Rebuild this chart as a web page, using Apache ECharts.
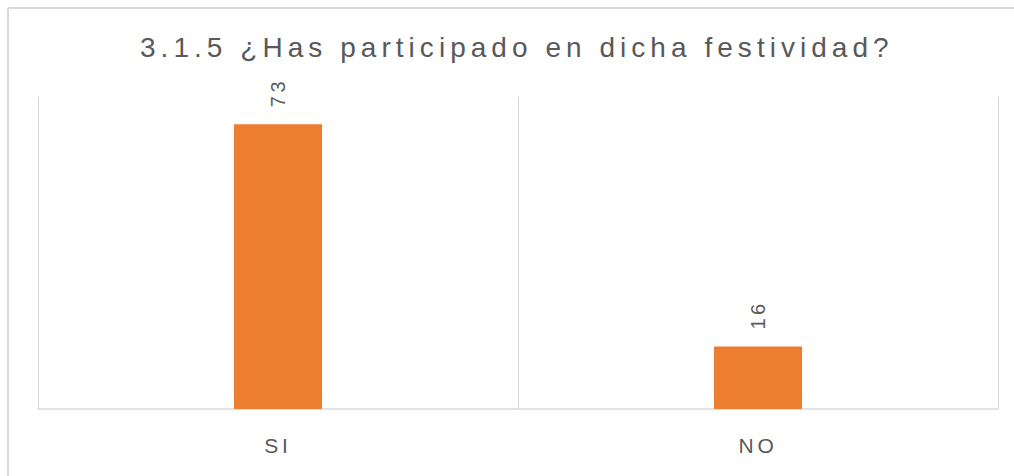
<!DOCTYPE html>
<html>
<head>
<meta charset="utf-8">
<script src="https://cdn.jsdelivr.net/npm/echarts@6/dist/echarts.min.js"></script>
<style>
  html, body { margin: 0; padding: 0; background: #fff; }
  #main { width: 1014px; height: 476px; }
  /* Excel-style expanded character spacing */
  #main svg text { letter-spacing: 0.18em; }
</style>
</head>
<body>
<div id="main"></div>
<script>
let titleText = '3.1.5 ¿Has participado en dicha festividad?';
let categories = ['SI', 'NO'];
let values = [73, 16];

let chartDom = document.getElementById('main');
let myChart = echarts.init(chartDom, null, { renderer: 'svg' });

let font = "'Liberation Sans', Arial, sans-serif";

let option = {
    animation: false,
    backgroundColor: '#fff',
    title: {
        text: titleText,
        left: 135,
        top: 28,
        textStyle: {
            fontFamily: font,
            fontSize: 28,
            fontWeight: 'normal',
            color: '#595959'
        }
    },
    graphic: [
        { type: 'line', shape: { x1: 8, y1: 8, x2: 1014, y2: 8 }, style: { stroke: '#d9d9d9', lineWidth: 2 } },
        { type: 'line', shape: { x1: 8, y1: 8, x2: 8, y2: 476 }, style: { stroke: '#d9d9d9', lineWidth: 2 } }
    ],
    grid: { left: 38, right: 16, top: 97, bottom: 67 },
    xAxis: {
        type: 'category',
        data: categories,
        axisTick: { show: false },
        axisLine: { lineStyle: { color: '#d9d9d9', width: 1.5 } },
        axisLabel: {
            margin: 26,
            fontFamily: font,
            fontSize: 21,
            color: '#595959'
        },
        splitLine: { show: true, lineStyle: { color: '#d9d9d9', width: 1 } }
    },
    yAxis: {
        type: 'value',
        min: 0,
        max: 80,
        show: false,
        splitLine: { show: false }
    },
    series: [{
        type: 'bar',
        data: values,
        barWidth: 88,
        itemStyle: { color: '#ed7d31' },
        label: {
            show: true,
            position: 'top',
            rotate: 90,
            align: 'left',
            verticalAlign: 'middle',
            distance: 17,
            fontFamily: font,
            fontSize: 20,
            color: '#595959'
        }
    }]
};

option && myChart.setOption(option);
</script>
</body>
</html>
